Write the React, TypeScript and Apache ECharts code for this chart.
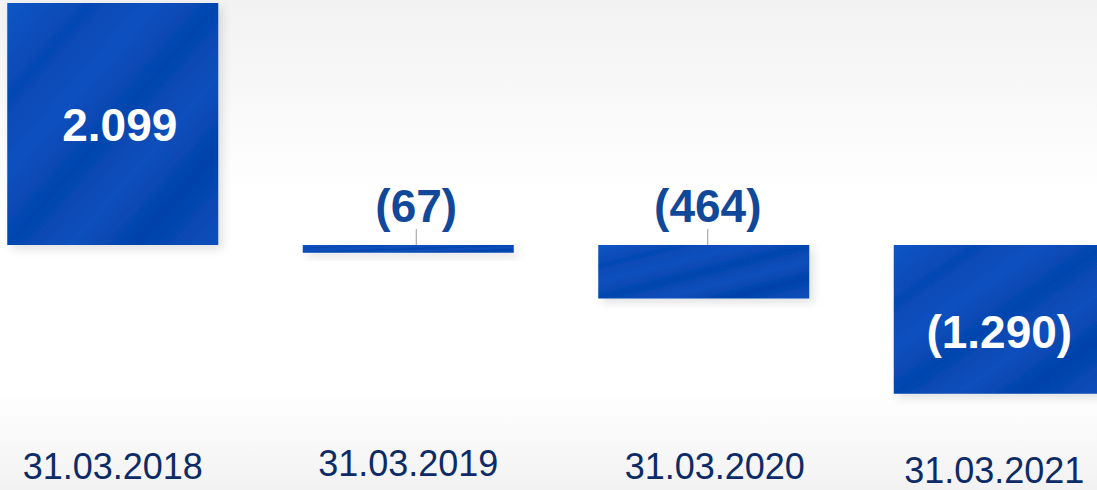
import React, { useEffect, useRef } from "react";
import * as echarts from "echarts";

const categories = ["31.03.2018", "31.03.2019", "31.03.2020", "31.03.2021"];
const values = [2099, -67, -464, -1290];

function fmt(v: number): string {
  const s = String(Math.abs(v)).replace(/\B(?=(\d{3})+(?!\d))/g, ".");
  return v < 0 ? `(${s})` : s;
}

export default function App() {
  const ref = useRef<HTMLDivElement>(null);
  useEffect(() => {
    if (!ref.current) return;
    const chart = echarts.init(ref.current, undefined, { renderer: "svg" });
    const barFill = new echarts.graphic.LinearGradient(0, 0, 1, 1, [
      { offset: 0, color: "#0b55c4" },
      { offset: 0.2, color: "#0649b4" },
      { offset: 0.35, color: "#0a50be" },
      { offset: 0.5, color: "#0545ae" },
      { offset: 0.65, color: "#0a4fbc" },
      { offset: 0.8, color: "#0442aa" },
      { offset: 1, color: "#0a4fbc" },
    ]);
    const labelCfg = [
      { position: "inside", color: "#ffffff" },
      { position: "top", color: "#12489a", distance: 4 },
      { position: "top", color: "#12489a", distance: 4 },
      { position: "inside", color: "#ffffff" },
    ];
    const showLine = [false, true, true, false];
    const pads = [
      [3, 0, 0, 0],
      [0, 0, 0, 0],
      [3, 0, 0, 22],
      [7, 10, 0, 0],
    ];
    const shift: Record<number, { dx: number; dy: number }> = {
      0: { dx: 7, dy: 1 },
      1: { dx: 8, dy: -12 },
      2: { dx: 4, dy: -12 },
      3: { dx: 0, dy: 13 },
    };
    chart.setOption({
      animation: false,
      backgroundColor: new echarts.graphic.LinearGradient(0, 0, 0, 1, [
        { offset: 0, color: "#f2f2f3" },
        { offset: 0.4, color: "#ffffff" },
        { offset: 0.8, color: "#ffffff" },
        { offset: 1, color: "#f2f2f3" },
      ]),
      grid: { left: 0, right: 0, top: 3, bottom: 50, containLabel: false },
      xAxis: {
        type: "category",
        data: categories.map((c, i) => ({
          value: c,
          textStyle: { padding: pads[i] },
        })),
        axisLine: { show: false },
        axisTick: { show: false },
        axisLabel: {
          fontSize: 36,
          color: "#0d2b66",
          fontFamily: "Liberation Sans, Arial, sans-serif",
          margin: 5,
          verticalAlign: "top",
          interval: 0,
        },
      },
      yAxis: {
        type: "value",
        show: false,
        min: -1691,
        max: 2099,
        splitLine: { show: false },
      },
      series: [
        {
          type: "bar",
          barWidth: 211,
          data: values.map((v, i) => ({
            value: v,
            label: labelCfg[i],
            labelLine: { show: showLine[i] },
          })),
          itemStyle: {
            color: barFill,
            shadowColor: "rgba(0,0,0,0.12)",
            shadowBlur: 10,
            shadowOffsetX: 4,
            shadowOffsetY: 4,
          },
          label: {
            show: true,
            fontSize: 46,
            fontWeight: "bold",
            fontFamily: "Liberation Sans, Arial, sans-serif",
            formatter: (p: any) => fmt(p.value),
          },
          labelLine: { show: true, lineStyle: { color: "#9a9a9a", width: 1 } },
          labelLayout: (p: any) => shift[p.dataIndex] || {},
        },
      ],
    });
    return () => chart.dispose();
  }, []);
  return (
    <div
      style={{
        position: "absolute",
        left: 0,
        top: 0,
        width: 1097,
        height: 490,
        overflow: "hidden",
      }}
    >
      <div
        ref={ref}
        style={{ position: "absolute", left: -35, top: 0, width: 1182, height: 490 }}
      />
    </div>
  );
}
